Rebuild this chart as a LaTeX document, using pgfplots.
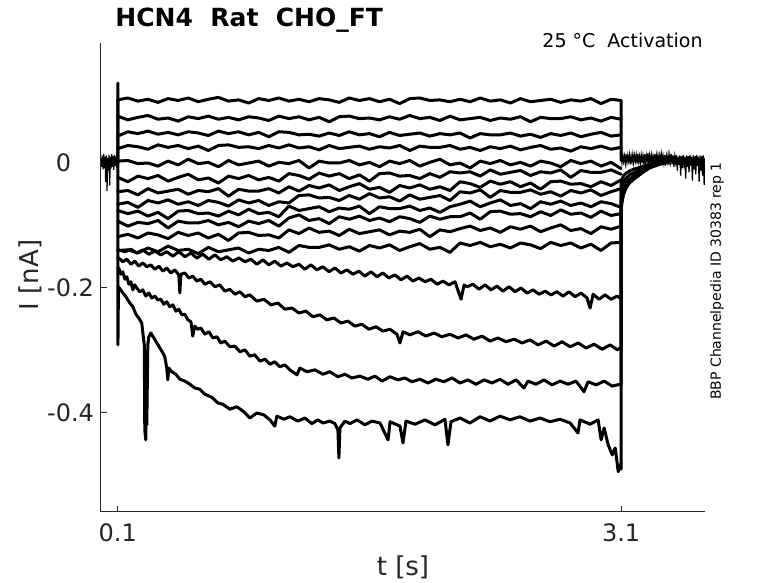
\documentclass[border=0pt]{standalone}
\usepackage{fontspec}
\setmainfont{DejaVu Sans}
\usepackage{pgfplots}
\pgfplotsset{compat=1.18}
\definecolor{axc}{HTML}{262626}
\tikzset{tr/.style={black, solid, mark=none, line width=1.5pt, line join=round, line cap=round},
         nz/.style={black, solid, mark=none, line width=0.6pt}}
\begin{document}
\begin{tikzpicture}
\path[use as bounding box] (-50.5pt,-35.5pt) rectangle (338.5pt,256pt);
\begin{axis}[
  at={(0pt,0pt)}, anchor=south west,
  scale only axis, width=302pt, height=234.5pt,
  xmin=0, xmax=3.6, ymin=-0.5584, ymax=0.192,
  axis x line*=bottom, axis y line*=left,
  axis line style={-, draw=axc, line width=0.5pt},
  tick align=inside, major tick length=3pt,
  tick style={draw=axc, line width=0.5pt},
  xtick={0.1,3.1}, xticklabels={0.1,3.1},
  ytick={-0.4,-0.2,0}, yticklabels={-0.4,-0.2,0\phantom{.0}},
  ticklabel style={font=\fontsize{12}{14}\selectfont, text=axc},
  xticklabel style={yshift=-2.5pt},
  /pgf/number format/assume math mode=true,
  no markers,
]
% pre-pulse baseline
\addplot[nz] coordinates {(0.000,0.008)(0.004,-0.006)(0.008,0.012)(0.012,-0.010)(0.016,0.014)(0.020,-0.008)(0.024,0.010)(0.028,-0.030)(0.032,0.012)(0.036,-0.045)(0.040,0.008)(0.044,-0.012)(0.048,0.013)(0.052,-0.036)(0.056,0.010)(0.060,-0.009)(0.064,0.014)(0.068,-0.006)(0.072,0.011)(0.076,-0.011)(0.080,0.013)(0.084,-0.004)(0.088,0.010)(0.092,-0.008)(0.096,0.012)(0.100,0.000)};
% tail after the pulse
\addplot[nz] coordinates {(3.100,0.012)(3.105,0.000)(3.110,0.013)(3.115,0.002)(3.120,0.011)(3.125,-0.001)(3.130,0.014)(3.135,0.001)(3.140,0.012)(3.145,0.003)(3.150,0.013)(3.155,-0.002)(3.160,0.011)(3.165,0.002)(3.170,0.014)(3.175,0.000)(3.180,0.012)(3.185,0.003)(3.190,0.013)(3.195,-0.001)(3.200,0.015)(3.205,0.002)(3.210,0.011)(3.215,0.000)(3.220,0.013)(3.225,0.003)(3.230,0.012)(3.235,-0.002)(3.240,0.014)(3.245,0.001)(3.250,0.012)(3.255,0.002)(3.260,0.016)(3.265,-0.001)(3.270,0.012)(3.275,0.003)(3.280,0.013)(3.285,0.000)(3.290,0.011)(3.295,0.002)(3.300,0.014)(3.305,-0.002)(3.310,0.012)(3.315,0.001)(3.320,0.013)(3.325,0.003)(3.330,0.012)(3.335,-0.001)(3.340,0.014)(3.345,0.002)(3.350,0.012)(3.355,0.000)(3.360,0.013)(3.365,-0.004)(3.370,0.011)(3.375,0.002)(3.380,0.013)(3.385,-0.003)(3.390,0.012)(3.395,0.001)(3.400,0.014)(3.405,-0.002)(3.410,0.012)(3.415,-0.006)(3.420,0.011)(3.425,0.001)(3.430,0.013)(3.435,-0.012)(3.440,0.010)(3.445,-0.003)(3.450,0.012)(3.455,-0.020)(3.460,0.011)(3.465,-0.008)(3.470,0.013)(3.475,-0.002)(3.480,0.010)(3.485,-0.025)(3.490,0.012)(3.495,-0.006)(3.500,0.011)(3.505,-0.015)(3.510,0.013)(3.515,-0.004)(3.520,0.010)(3.525,-0.028)(3.530,0.012)(3.535,-0.010)(3.540,0.011)(3.545,-0.018)(3.550,0.013)(3.555,-0.005)(3.560,0.010)(3.565,-0.030)(3.570,0.012)(3.575,-0.012)(3.580,0.011)(3.585,-0.020)(3.590,0.012)(3.595,-0.035)(3.600,0.008)};
% T1
\addplot[tr] coordinates {(0.100,0.000)(0.10,0.101)(0.16,0.104)(0.22,0.099)(0.28,0.102)(0.34,0.097)(0.40,0.103)(0.46,0.100)(0.52,0.104)(0.58,0.098)(0.64,0.102)(0.70,0.105)(0.76,0.099)(0.82,0.101)(0.88,0.096)(0.94,0.103)(1.00,0.100)(1.06,0.104)(1.12,0.099)(1.18,0.102)(1.24,0.098)(1.30,0.103)(1.36,0.101)(1.42,0.097)(1.48,0.104)(1.54,0.100)(1.60,0.103)(1.66,0.098)(1.72,0.102)(1.78,0.095)(1.84,0.103)(1.90,0.104)(1.96,0.100)(2.02,0.101)(2.08,0.098)(2.14,0.102)(2.20,0.098)(2.26,0.104)(2.32,0.099)(2.38,0.101)(2.44,0.096)(2.50,0.103)(2.56,0.098)(2.62,0.100)(2.68,0.102)(2.74,0.097)(2.80,0.101)(2.86,0.099)(2.92,0.103)(2.98,0.095)(3.04,0.102)(3.10,0.100)(3.100,0.004)};
% T2
\addplot[tr] coordinates {(0.10,0.075)(0.16,0.069)(0.22,0.073)(0.28,0.076)(0.34,0.070)(0.40,0.072)(0.46,0.067)(0.52,0.074)(0.58,0.071)(0.64,0.075)(0.70,0.070)(0.76,0.073)(0.82,0.069)(0.88,0.074)(0.94,0.072)(1.00,0.068)(1.06,0.075)(1.12,0.071)(1.18,0.074)(1.24,0.069)(1.30,0.073)(1.36,0.066)(1.42,0.074)(1.48,0.075)(1.54,0.071)(1.60,0.072)(1.66,0.069)(1.72,0.074)(1.78,0.070)(1.84,0.076)(1.90,0.071)(1.96,0.073)(2.02,0.068)(2.08,0.075)(2.14,0.069)(2.20,0.071)(2.26,0.073)(2.32,0.068)(2.38,0.072)(2.44,0.070)(2.50,0.074)(2.56,0.066)(2.62,0.073)(2.68,0.071)(2.74,0.071)(2.80,0.074)(2.86,0.069)(2.92,0.072)(2.98,0.067)(3.04,0.073)(3.10,0.070)};
% T3
\addplot[tr] coordinates {(0.10,0.043)(0.16,0.050)(0.22,0.047)(0.28,0.051)(0.34,0.046)(0.40,0.049)(0.46,0.045)(0.52,0.050)(0.58,0.048)(0.64,0.044)(0.70,0.051)(0.76,0.047)(0.82,0.050)(0.88,0.045)(0.94,0.049)(1.00,0.042)(1.06,0.050)(1.12,0.049)(1.18,0.045)(1.24,0.046)(1.30,0.043)(1.36,0.048)(1.42,0.044)(1.48,0.050)(1.54,0.045)(1.60,0.047)(1.66,0.042)(1.72,0.049)(1.78,0.044)(1.84,0.046)(1.90,0.048)(1.96,0.043)(2.02,0.047)(2.08,0.045)(2.14,0.048)(2.20,0.040)(2.26,0.047)(2.32,0.045)(2.38,0.045)(2.44,0.048)(2.50,0.043)(2.56,0.046)(2.62,0.041)(2.68,0.047)(2.74,0.044)(2.80,0.048)(2.86,0.042)(2.92,0.046)(2.98,0.049)(3.04,0.043)(3.10,0.045)};
% T4
\addplot[tr] coordinates {(0.10,0.023)(0.16,0.028)(0.22,0.026)(0.28,0.022)(0.34,0.029)(0.40,0.025)(0.46,0.028)(0.52,0.023)(0.58,0.027)(0.64,0.020)(0.70,0.028)(0.76,0.029)(0.82,0.025)(0.88,0.026)(0.94,0.023)(1.00,0.028)(1.06,0.024)(1.12,0.029)(1.18,0.024)(1.24,0.026)(1.30,0.021)(1.36,0.028)(1.42,0.023)(1.48,0.025)(1.54,0.027)(1.60,0.022)(1.66,0.026)(1.72,0.024)(1.78,0.028)(1.84,0.020)(1.90,0.027)(1.96,0.025)(2.02,0.025)(2.08,0.028)(2.14,0.022)(2.20,0.025)(2.26,0.020)(2.32,0.026)(2.38,0.023)(2.44,0.027)(2.50,0.021)(2.56,0.025)(2.62,0.028)(2.68,0.022)(2.74,0.024)(2.80,0.019)(2.86,0.026)(2.92,0.023)(2.98,0.027)(3.04,0.022)(3.10,0.025)};
% T5
\addplot[tr] coordinates {(0.10,0.003)(0.16,0.004)(0.22,-0.001)(0.28,0.000)(0.34,-0.005)(0.40,0.003)(0.46,-0.003)(0.52,0.006)(0.58,-0.001)(0.64,0.001)(0.70,-0.006)(0.76,0.004)(0.82,-0.003)(0.88,0.000)(0.94,0.003)(1.00,-0.005)(1.06,0.001)(1.12,-0.001)(1.18,0.004)(1.24,-0.008)(1.30,0.003)(1.36,0.000)(1.42,0.000)(1.48,0.004)(1.54,-0.003)(1.60,0.001)(1.66,-0.006)(1.72,0.003)(1.78,-0.001)(1.84,0.004)(1.90,-0.005)(1.96,0.001)(2.02,0.006)(2.08,-0.003)(2.14,0.000)(2.20,-0.008)(2.26,0.003)(2.32,-0.001)(2.38,0.004)(2.44,-0.003)(2.50,0.001)(2.56,-0.005)(2.62,0.003)(2.68,0.000)(2.74,-0.006)(2.80,0.004)(2.86,-0.001)(2.92,0.003)(2.98,-0.005)(3.04,0.001)(3.10,-0.009)};
% T6
\addplot[tr] coordinates {(0.10,-0.023)(0.16,-0.030)(0.22,-0.021)(0.28,-0.025)(0.34,-0.020)(0.40,-0.029)(0.46,-0.023)(0.52,-0.018)(0.58,-0.027)(0.64,-0.024)(0.70,-0.032)(0.76,-0.021)(0.82,-0.025)(0.88,-0.020)(0.94,-0.027)(1.00,-0.023)(1.06,-0.029)(1.12,-0.017)(1.18,-0.020)(1.24,-0.026)(1.30,-0.016)(1.36,-0.021)(1.42,-0.017)(1.48,-0.025)(1.54,-0.019)(1.60,-0.029)(1.66,-0.017)(1.72,-0.016)(1.78,-0.021)(1.84,-0.020)(1.90,-0.025)(1.96,-0.017)(2.02,-0.023)(2.08,-0.014)(2.14,-0.016)(2.20,-0.014)(2.26,-0.021)(2.32,-0.011)(2.38,-0.018)(2.44,-0.015)(2.50,-0.012)(2.56,-0.020)(2.62,-0.014)(2.68,-0.016)(2.74,-0.011)(2.80,-0.023)(2.86,-0.012)(2.92,-0.015)(2.98,-0.015)(3.04,-0.011)(3.10,-0.018)};
% T7
\addplot[tr] coordinates {(0.10,-0.046)(0.16,-0.044)(0.22,-0.051)(0.28,-0.041)(0.34,-0.048)(0.40,-0.045)(0.46,-0.042)(0.52,-0.050)(0.58,-0.044)(0.64,-0.046)(0.70,-0.041)(0.76,-0.053)(0.82,-0.042)(0.88,-0.045)(0.94,-0.045)(1.00,-0.041)(1.06,-0.048)(1.12,-0.038)(1.18,-0.045)(1.24,-0.036)(1.30,-0.040)(1.36,-0.035)(1.42,-0.044)(1.48,-0.038)(1.54,-0.033)(1.60,-0.042)(1.66,-0.039)(1.72,-0.047)(1.78,-0.036)(1.84,-0.040)(1.90,-0.035)(1.96,-0.042)(2.02,-0.038)(2.08,-0.044)(2.14,-0.030)(2.20,-0.033)(2.26,-0.039)(2.32,-0.029)(2.38,-0.034)(2.44,-0.030)(2.50,-0.038)(2.56,-0.032)(2.62,-0.042)(2.68,-0.030)(2.74,-0.029)(2.80,-0.034)(2.86,-0.033)(2.92,-0.038)(2.98,-0.030)(3.04,-0.036)(3.10,-0.027)};
% T8
\addplot[tr] coordinates {(0.10,-0.066)(0.16,-0.063)(0.22,-0.071)(0.28,-0.060)(0.34,-0.064)(0.40,-0.059)(0.46,-0.066)(0.52,-0.062)(0.58,-0.068)(0.64,-0.060)(0.70,-0.063)(0.76,-0.069)(0.82,-0.059)(0.88,-0.064)(0.94,-0.060)(1.00,-0.068)(1.06,-0.062)(1.12,-0.064)(1.18,-0.052)(1.24,-0.051)(1.30,-0.056)(1.36,-0.055)(1.42,-0.060)(1.48,-0.052)(1.54,-0.058)(1.60,-0.049)(1.66,-0.056)(1.72,-0.054)(1.78,-0.061)(1.84,-0.051)(1.90,-0.058)(1.96,-0.055)(2.02,-0.052)(2.08,-0.060)(2.14,-0.046)(2.20,-0.048)(2.26,-0.043)(2.32,-0.055)(2.38,-0.044)(2.44,-0.047)(2.50,-0.047)(2.56,-0.043)(2.62,-0.050)(2.68,-0.046)(2.74,-0.053)(2.80,-0.044)(2.86,-0.048)(2.92,-0.043)(2.98,-0.052)(3.04,-0.046)(3.10,-0.041)};
% T9
\addplot[tr] coordinates {(0.10,-0.076)(0.16,-0.081)(0.22,-0.077)(0.28,-0.085)(0.34,-0.079)(0.40,-0.089)(0.46,-0.077)(0.52,-0.076)(0.58,-0.081)(0.64,-0.080)(0.70,-0.085)(0.76,-0.077)(0.82,-0.083)(0.88,-0.074)(0.94,-0.081)(1.00,-0.079)(1.06,-0.086)(1.12,-0.069)(1.18,-0.076)(1.24,-0.073)(1.30,-0.070)(1.36,-0.078)(1.42,-0.072)(1.48,-0.074)(1.54,-0.069)(1.60,-0.081)(1.66,-0.070)(1.72,-0.073)(1.78,-0.073)(1.84,-0.069)(1.90,-0.076)(1.96,-0.072)(2.02,-0.079)(2.08,-0.070)(2.14,-0.066)(2.20,-0.061)(2.26,-0.070)(2.32,-0.064)(2.38,-0.059)(2.44,-0.068)(2.50,-0.065)(2.56,-0.073)(2.62,-0.062)(2.68,-0.066)(2.74,-0.061)(2.80,-0.068)(2.86,-0.064)(2.92,-0.070)(2.98,-0.062)(3.04,-0.065)(3.10,-0.071)};
% T10
\addplot[tr] coordinates {(0.10,-0.093)(0.16,-0.101)(0.22,-0.095)(0.28,-0.097)(0.34,-0.092)(0.40,-0.104)(0.46,-0.093)(0.52,-0.096)(0.58,-0.096)(0.64,-0.092)(0.70,-0.099)(0.76,-0.095)(0.82,-0.102)(0.88,-0.093)(0.94,-0.097)(1.00,-0.092)(1.06,-0.101)(1.12,-0.088)(1.18,-0.083)(1.24,-0.092)(1.30,-0.089)(1.36,-0.097)(1.42,-0.086)(1.48,-0.090)(1.54,-0.085)(1.60,-0.092)(1.66,-0.088)(1.72,-0.094)(1.78,-0.086)(1.84,-0.089)(1.90,-0.095)(1.96,-0.085)(2.02,-0.090)(2.08,-0.086)(2.14,-0.086)(2.20,-0.080)(2.26,-0.090)(2.32,-0.078)(2.38,-0.077)(2.44,-0.082)(2.50,-0.081)(2.56,-0.086)(2.62,-0.078)(2.68,-0.084)(2.74,-0.075)(2.80,-0.082)(2.86,-0.080)(2.92,-0.087)(2.98,-0.077)(3.04,-0.084)(3.10,-0.081)};
% T11
\addplot[tr] coordinates {(0.10,-0.118)(0.16,-0.114)(0.22,-0.120)(0.28,-0.112)(0.34,-0.115)(0.40,-0.121)(0.46,-0.111)(0.52,-0.116)(0.58,-0.112)(0.64,-0.120)(0.70,-0.114)(0.76,-0.124)(0.82,-0.112)(0.88,-0.111)(0.94,-0.116)(1.00,-0.115)(1.06,-0.120)(1.12,-0.107)(1.18,-0.113)(1.24,-0.104)(1.30,-0.111)(1.36,-0.109)(1.42,-0.116)(1.48,-0.106)(1.54,-0.113)(1.60,-0.110)(1.66,-0.107)(1.72,-0.115)(1.78,-0.109)(1.84,-0.111)(1.90,-0.106)(1.96,-0.118)(2.02,-0.107)(2.08,-0.110)(2.14,-0.105)(2.20,-0.101)(2.26,-0.108)(2.32,-0.104)(2.38,-0.111)(2.44,-0.102)(2.50,-0.106)(2.56,-0.101)(2.62,-0.110)(2.68,-0.104)(2.74,-0.099)(2.80,-0.108)(2.86,-0.105)(2.92,-0.113)(2.98,-0.102)(3.04,-0.106)(3.10,-0.101)};
% T12
\addplot[tr] coordinates {(0.10,-0.140)(0.16,-0.139)(0.22,-0.144)(0.28,-0.136)(0.34,-0.142)(0.40,-0.133)(0.46,-0.140)(0.52,-0.138)(0.58,-0.145)(0.64,-0.135)(0.70,-0.142)(0.76,-0.139)(0.82,-0.136)(0.88,-0.144)(0.94,-0.138)(1.00,-0.140)(1.06,-0.135)(1.12,-0.143)(1.18,-0.132)(1.24,-0.135)(1.30,-0.135)(1.36,-0.131)(1.42,-0.138)(1.48,-0.134)(1.54,-0.141)(1.60,-0.132)(1.66,-0.136)(1.72,-0.131)(1.78,-0.140)(1.84,-0.134)(1.90,-0.129)(1.96,-0.138)(2.02,-0.135)(2.08,-0.143)(2.14,-0.128)(2.20,-0.132)(2.26,-0.127)(2.32,-0.134)(2.38,-0.130)(2.44,-0.136)(2.50,-0.128)(2.56,-0.131)(2.62,-0.137)(2.68,-0.127)(2.74,-0.132)(2.80,-0.128)(2.86,-0.136)(2.92,-0.130)(2.98,-0.140)(3.04,-0.128)(3.10,-0.127)};
% T13
\addplot[tr] coordinates {(0.100,-0.139)(0.106,-0.139)(0.142,-0.142)(0.178,-0.138)(0.213,-0.144)(0.249,-0.139)(0.285,-0.146)(0.321,-0.141)(0.357,-0.147)(0.392,-0.142)(0.428,-0.149)(0.464,-0.142)(0.500,-0.150)(0.536,-0.144)(0.571,-0.152)(0.607,-0.146)(0.643,-0.154)(0.679,-0.147)(0.714,-0.155)(0.750,-0.150)(0.786,-0.157)(0.822,-0.152)(0.858,-0.158)(0.893,-0.154)(0.929,-0.162)(0.965,-0.155)(1.001,-0.163)(1.036,-0.157)(1.072,-0.165)(1.108,-0.160)(1.144,-0.166)(1.180,-0.162)(1.215,-0.170)(1.251,-0.163)(1.287,-0.171)(1.323,-0.166)(1.359,-0.174)(1.394,-0.168)(1.430,-0.176)(1.466,-0.171)(1.502,-0.178)(1.537,-0.173)(1.573,-0.181)(1.609,-0.174)(1.645,-0.182)(1.680,-0.176)(1.716,-0.184)(1.752,-0.179)(1.788,-0.187)(1.824,-0.181)(1.859,-0.189)(1.895,-0.184)(1.931,-0.190)(1.967,-0.186)(2.003,-0.194)(2.038,-0.189)(2.074,-0.195)(2.110,-0.190)(2.146,-0.218)(2.164,-0.195)(2.182,-0.198)(2.217,-0.194)(2.253,-0.202)(2.289,-0.195)(2.325,-0.203)(2.360,-0.197)(2.396,-0.205)(2.432,-0.198)(2.468,-0.206)(2.503,-0.200)(2.539,-0.208)(2.575,-0.203)(2.611,-0.210)(2.647,-0.205)(2.682,-0.211)(2.718,-0.206)(2.754,-0.213)(2.790,-0.206)(2.826,-0.214)(2.861,-0.208)(2.897,-0.216)(2.915,-0.232)(2.933,-0.210)(2.969,-0.218)(3.004,-0.211)(3.040,-0.218)(3.076,-0.213)(3.094,-0.216)(3.100,-0.216)(3.100,-0.030)(3.105,-0.026)(3.115,-0.020)(3.130,-0.016)(3.150,-0.013)(3.175,-0.010)(3.200,-0.008)(3.235,-0.005)(3.270,-0.002)(3.320,0.002)(3.380,0.005)};
% T14
\addplot[tr] coordinates {(0.100,-0.152)(0.106,-0.152)(0.130,-0.158)(0.154,-0.154)(0.178,-0.162)(0.202,-0.157)(0.225,-0.165)(0.249,-0.160)(0.273,-0.166)(0.297,-0.163)(0.321,-0.170)(0.345,-0.165)(0.369,-0.173)(0.392,-0.168)(0.416,-0.176)(0.440,-0.171)(0.464,-0.179)(0.470,-0.208)(0.476,-0.178)(0.500,-0.176)(0.524,-0.184)(0.547,-0.181)(0.571,-0.189)(0.595,-0.186)(0.619,-0.194)(0.649,-0.190)(0.679,-0.198)(0.708,-0.195)(0.738,-0.205)(0.768,-0.202)(0.798,-0.210)(0.828,-0.206)(0.858,-0.214)(0.887,-0.211)(0.929,-0.221)(0.971,-0.218)(1.013,-0.227)(1.054,-0.224)(1.096,-0.234)(1.138,-0.232)(1.180,-0.240)(1.221,-0.237)(1.263,-0.246)(1.305,-0.243)(1.346,-0.251)(1.388,-0.248)(1.430,-0.256)(1.472,-0.253)(1.513,-0.261)(1.555,-0.258)(1.597,-0.266)(1.639,-0.262)(1.680,-0.269)(1.722,-0.266)(1.764,-0.274)(1.782,-0.288)(1.800,-0.270)(1.841,-0.275)(1.889,-0.270)(1.937,-0.277)(1.985,-0.272)(2.032,-0.278)(2.080,-0.274)(2.128,-0.280)(2.176,-0.275)(2.223,-0.282)(2.271,-0.277)(2.319,-0.285)(2.366,-0.280)(2.414,-0.286)(2.462,-0.282)(2.510,-0.288)(2.557,-0.283)(2.605,-0.291)(2.653,-0.285)(2.701,-0.293)(2.748,-0.286)(2.796,-0.294)(2.844,-0.288)(2.891,-0.296)(2.939,-0.290)(2.987,-0.298)(3.035,-0.291)(3.077,-0.299)(3.095,-0.296)(3.100,-0.296)(3.100,-0.045)(3.105,-0.038)(3.115,-0.030)(3.130,-0.024)(3.150,-0.019)(3.175,-0.016)(3.200,-0.012)(3.235,-0.008)(3.270,-0.004)(3.320,0.000)(3.380,0.004)};
% T15
\addplot[tr] coordinates {(0.100,-0.168)(0.106,-0.168)(0.118,-0.178)(0.130,-0.174)(0.142,-0.186)(0.154,-0.182)(0.166,-0.194)(0.178,-0.190)(0.190,-0.203)(0.201,-0.195)(0.213,-0.200)(0.231,-0.206)(0.249,-0.203)(0.267,-0.213)(0.285,-0.208)(0.303,-0.216)(0.321,-0.213)(0.339,-0.219)(0.357,-0.218)(0.374,-0.226)(0.392,-0.222)(0.410,-0.230)(0.428,-0.227)(0.446,-0.237)(0.464,-0.234)(0.482,-0.243)(0.500,-0.242)(0.518,-0.251)(0.536,-0.254)(0.547,-0.277)(0.559,-0.261)(0.577,-0.266)(0.595,-0.264)(0.619,-0.274)(0.643,-0.270)(0.667,-0.280)(0.691,-0.278)(0.714,-0.288)(0.738,-0.285)(0.768,-0.294)(0.798,-0.293)(0.828,-0.302)(0.858,-0.299)(0.887,-0.309)(0.917,-0.307)(0.947,-0.317)(0.977,-0.314)(1.007,-0.322)(1.036,-0.318)(1.066,-0.326)(1.096,-0.323)(1.126,-0.331)(1.168,-0.339)(1.185,-0.328)(1.227,-0.334)(1.275,-0.331)(1.323,-0.338)(1.364,-0.334)(1.412,-0.342)(1.454,-0.338)(1.495,-0.344)(1.543,-0.341)(1.591,-0.346)(1.633,-0.341)(1.675,-0.349)(1.722,-0.342)(1.770,-0.347)(1.811,-0.344)(1.853,-0.350)(1.901,-0.346)(1.949,-0.352)(1.996,-0.346)(2.044,-0.350)(2.092,-0.344)(2.140,-0.352)(2.187,-0.347)(2.235,-0.354)(2.283,-0.347)(2.330,-0.352)(2.378,-0.346)(2.426,-0.354)(2.474,-0.347)(2.521,-0.360)(2.545,-0.349)(2.593,-0.354)(2.640,-0.347)(2.688,-0.355)(2.736,-0.349)(2.784,-0.354)(2.831,-0.349)(2.879,-0.366)(2.903,-0.350)(2.951,-0.355)(2.999,-0.349)(3.047,-0.357)(3.094,-0.354)(3.100,-0.354)(3.100,-0.060)(3.105,-0.051)(3.115,-0.040)(3.130,-0.032)(3.150,-0.026)(3.175,-0.021)(3.200,-0.017)(3.235,-0.011)(3.270,-0.006)(3.320,-0.002)(3.380,0.003)};
% T16
\addplot[tr] coordinates {(0.100,0.000)(0.100,0.128)(0.101,-0.291)(0.104,-0.198)(0.125,-0.206)(0.148,-0.214)(0.172,-0.224)(0.190,-0.230)(0.208,-0.242)(0.225,-0.248)(0.243,-0.256)(0.252,-0.278)(0.258,-0.291)(0.261,-0.427)(0.267,-0.443)(0.270,-0.315)(0.273,-0.419)(0.279,-0.291)(0.285,-0.278)(0.297,-0.272)(0.315,-0.280)(0.333,-0.288)(0.351,-0.296)(0.369,-0.304)(0.380,-0.310)(0.392,-0.328)(0.398,-0.347)(0.404,-0.328)(0.422,-0.334)(0.446,-0.338)(0.470,-0.346)(0.500,-0.349)(0.530,-0.354)(0.559,-0.360)(0.589,-0.362)(0.619,-0.370)(0.661,-0.375)(0.697,-0.384)(0.726,-0.386)(0.768,-0.394)(0.810,-0.390)(0.851,-0.398)(0.887,-0.408)(0.929,-0.400)(0.971,-0.403)(1.007,-0.411)(1.036,-0.421)(1.048,-0.405)(1.090,-0.410)(1.126,-0.406)(1.173,-0.413)(1.215,-0.408)(1.257,-0.417)(1.293,-0.411)(1.323,-0.416)(1.364,-0.413)(1.394,-0.417)(1.412,-0.427)(1.418,-0.472)(1.424,-0.424)(1.454,-0.413)(1.484,-0.417)(1.526,-0.411)(1.573,-0.419)(1.615,-0.413)(1.663,-0.416)(1.711,-0.443)(1.723,-0.414)(1.782,-0.421)(1.800,-0.448)(1.818,-0.413)(1.871,-0.418)(1.931,-0.411)(1.991,-0.419)(2.050,-0.410)(2.068,-0.451)(2.086,-0.414)(2.140,-0.408)(2.199,-0.416)(2.259,-0.406)(2.319,-0.413)(2.378,-0.405)(2.438,-0.411)(2.497,-0.406)(2.557,-0.413)(2.617,-0.408)(2.676,-0.414)(2.736,-0.410)(2.796,-0.416)(2.843,-0.432)(2.855,-0.411)(2.915,-0.418)(2.963,-0.411)(2.981,-0.443)(2.999,-0.424)(3.023,-0.451)(3.047,-0.467)(3.065,-0.456)(3.083,-0.494)(3.095,-0.482)(3.100,-0.490)(3.100,-0.075)(3.105,-0.064)(3.115,-0.050)(3.130,-0.040)(3.150,-0.032)(3.175,-0.026)(3.200,-0.021)(3.235,-0.014)(3.270,-0.008)(3.320,-0.003)(3.380,0.002)};
\end{axis}
\node[anchor=base west, inner sep=0pt, font=\fontsize{12.5}{15}\selectfont\bfseries] at (7pt,242.6pt) {HCN4~~Rat~~CHO\_FT};
\node[anchor=base east, inner sep=0pt, font=\fontsize{9.5}{11}\selectfont] at (301pt,232.3pt) {25 °C~~Activation};
\node[rotate=90, font=\fontsize{7}{8}\selectfont] at (308pt,115.5pt) {BBP Channelpedia ID 30383 rep 1};
\node[rotate=90, font=\fontsize{13}{15}\selectfont, text=axc] at (-35.5pt,118.5pt) {I [nA]};
\node[font=\fontsize{13}{15}\selectfont, text=axc] at (151pt,-27.5pt) {t [s]};
\end{tikzpicture}
\end{document}
